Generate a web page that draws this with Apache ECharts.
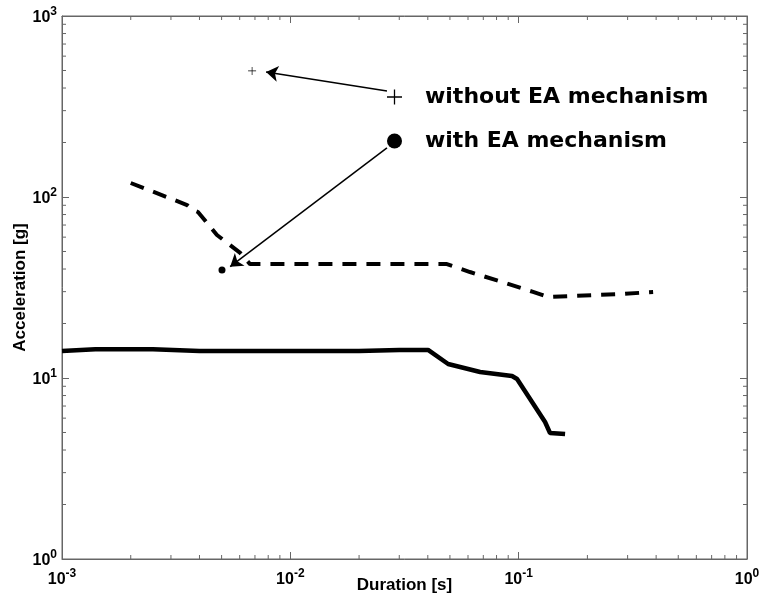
<!DOCTYPE html>
<html>
<head>
<meta charset="utf-8">
<script src="https://cdn.jsdelivr.net/npm/echarts@6/dist/echarts.min.js"></script>
<style>
  html, body { margin: 0; padding: 0; background: #fff; }
  #main { width: 760px; height: 599px; }
</style>
</head>
<body>
<div id="main"></div>
<script>
// solid curve
var solidX = [0.001, 0.0014, 0.0025, 0.004, 0.02, 0.03, 0.0401, 0.0491, 0.0678, 0.0935, 0.0984, 0.1305, 0.1372, 0.1597];
var solidY = [14.1, 14.4, 14.4, 14.1, 14.1, 14.3, 14.3, 11.95, 10.8, 10.26, 9.87, 5.71, 4.97, 4.9];
// dashed curve
var dashX = [0.002, 0.00353, 0.00375, 0.00394, 0.00477, 0.00603, 0.00666, 0.0485, 0.0612, 0.0872, 0.1156, 0.1345, 0.21, 0.284, 0.388];
var dashY = [119.5, 90.3, 84.8, 82.6, 61.7, 49.1, 42.6, 42.6, 38.5, 33.5, 29.9, 28.0, 28.7, 29.1, 29.9];
// single markers
var withoutEA = [0.0068, 497];
var withEA = [0.00502, 39.5];
// arrows: from legend to marker
var arrowWithout = [[0.0265, 385], [0.00783, 490]];
var arrowWith = [[0.0265, 187], [0.00545, 41.2]];
// minor ticks
var xMinor = [];
var yMinor = [];
for (var d = -3; d < 0; d++) {
  for (var m = 2; m <= 9; m++) xMinor.push(m * Math.pow(10, d));
}
for (var d2 = 0; d2 < 3; d2++) {
  for (var m2 = 2; m2 <= 9; m2++) yMinor.push(m2 * Math.pow(10, d2));
}

var plusPath = 'path://M0,6.4H14V7.6H0Z M6.4,0H7.6V14H6.4Z';
var axisColor = '#666';
var font = 'Liberation Sans';

function zip(a, b) {
  var out = [];
  for (var i = 0; i < a.length; i++) out.push([a[i], b[i]]);
  return out;
}

function powLabel(v) {
  var e = Math.round(Math.log10(v));
  return '{b|10}{s|' + e + '}';
}

var labelRich = {
  b: { fontSize: 16, fontWeight: 'bold', fontFamily: font, color: '#000', lineHeight: 20, verticalAlign: 'bottom' },
  s: { fontSize: 12, fontWeight: 'bold', fontFamily: font, color: '#000', lineHeight: 20, verticalAlign: 'top' }
};

function arrowLine(pair) {
  return {
    silent: true, symbol: ['none', 'arrow'], symbolSize: 12,
    label: { show: false },
    itemStyle: { color: '#000', opacity: 1 },
    lineStyle: { color: '#000', width: 1.5, type: 'solid', opacity: 1 },
    emphasis: { disabled: true },
    data: [[{ coord: pair[0] }, { coord: pair[1] }]]
  };
}

var chart = echarts.init(document.getElementById('main'));

var option = {
  animation: false,
  backgroundColor: '#fff',
  grid: { left: 62, right: 13, top: 16, bottom: 40, outerBoundsMode: 'none', show: true, borderColor: axisColor, borderWidth: 1 },
  legend: {
    orient: 'vertical',
    left: 382,
    top: 81,
    itemWidth: 15,
    itemHeight: 15,
    itemGap: 22,
    selectedMode: false,
    textStyle: { fontFamily: 'DejaVu Sans', fontWeight: 'bold', fontSize: 22, color: '#000', padding: [0, 0, 0, 18] },
    data: [
      { name: 'without EA mechanism', icon: plusPath, itemStyle: { color: '#000', opacity: 1 } },
      { name: 'with EA mechanism', icon: 'circle', itemStyle: { color: '#000', opacity: 1 } }
    ]
  },
  xAxis: [{
    type: 'log', min: 0.001, max: 1, logBase: 10,
    name: 'Duration [s]', nameLocation: 'middle', nameGap: 18, nameMoveOverlap: false,
    nameTextStyle: { fontFamily: font, fontWeight: 'bold', fontSize: 17, color: '#000' },
    axisLine: { lineStyle: { color: axisColor } },
    axisTick: { inside: true, length: 7, lineStyle: { color: axisColor } },
    axisLabel: { margin: 9, formatter: powLabel, rich: labelRich, showMinLabel: true, showMaxLabel: true },
    splitLine: { show: false }
  }, {
    type: 'log', min: 0.001, max: 1, position: 'top',
    axisLine: { lineStyle: { color: axisColor } },
    axisTick: { inside: true, length: 7, lineStyle: { color: axisColor } },
    axisLabel: { show: false },
    splitLine: { show: false }
  }],
  yAxis: [{
    type: 'log', min: 1, max: 1000, logBase: 10,
    name: 'Acceleration [g]', nameLocation: 'middle', nameGap: 33, nameMoveOverlap: false,
    nameTextStyle: { fontFamily: font, fontWeight: 'bold', fontSize: 17, color: '#000' },
    axisLine: { show: true, lineStyle: { color: axisColor } },
    axisTick: { show: true, inside: true, length: 7, lineStyle: { color: axisColor } },
    axisLabel: { margin: 5, formatter: powLabel, rich: labelRich, showMinLabel: true, showMaxLabel: true },
    splitLine: { show: false }
  }, {
    type: 'log', min: 1, max: 1000, position: 'right',
    axisLine: { show: true, lineStyle: { color: axisColor } },
    axisTick: { show: true, inside: true, length: 7, lineStyle: { color: axisColor } },
    axisLabel: { show: false },
    splitLine: { show: false }
  }],
  series: [
    {
      type: 'line', name: 'solid', data: zip(solidX, solidY), showSymbol: false, silent: true,
      lineStyle: { color: '#000', width: 4.5 }
    },
    {
      type: 'line', name: 'dashed', data: zip(dashX, dashY), showSymbol: false, silent: true,
      lineStyle: { color: '#000', width: 4, type: [14, 10], cap: 'butt' }
    },
    {
      type: 'scatter', name: 'without EA mechanism', data: [withoutEA],
      symbol: plusPath, symbolSize: 8, itemStyle: { color: '#000', opacity: 1 }, silent: true,
      markLine: arrowLine(arrowWithout)
    },
    {
      type: 'scatter', name: 'with EA mechanism', data: [withEA],
      symbol: 'circle', symbolSize: 7, itemStyle: { color: '#000', opacity: 1 }, silent: true,
      markLine: arrowLine(arrowWith)
    },
    {
      type: 'custom', name: 'xminor', silent: true, clip: false,
      data: xMinor.map(function (v) { return [v, 10]; }),
      renderItem: function (params, api) {
        var cs = params.coordSys;
        var px = api.coord([api.value(0), 10])[0];
        var st = { stroke: axisColor, lineWidth: 1 };
        return { type: 'group', children: [
          { type: 'line', shape: { x1: px, y1: cs.y + cs.height, x2: px, y2: cs.y + cs.height - 4 }, style: st },
          { type: 'line', shape: { x1: px, y1: cs.y, x2: px, y2: cs.y + 4 }, style: st }
        ] };
      }
    },
    {
      type: 'custom', name: 'yminor', silent: true, clip: false,
      data: yMinor.map(function (v) { return [0.01, v]; }),
      renderItem: function (params, api) {
        var cs = params.coordSys;
        var py = api.coord([0.01, api.value(1)])[1];
        var st = { stroke: axisColor, lineWidth: 1 };
        return { type: 'group', children: [
          { type: 'line', shape: { x1: cs.x, y1: py, x2: cs.x + 4, y2: py }, style: st },
          { type: 'line', shape: { x1: cs.x + cs.width, y1: py, x2: cs.x + cs.width - 4, y2: py }, style: st }
        ] };
      }
    }
  ]
};

chart.setOption(option);
</script>
</body>
</html>
